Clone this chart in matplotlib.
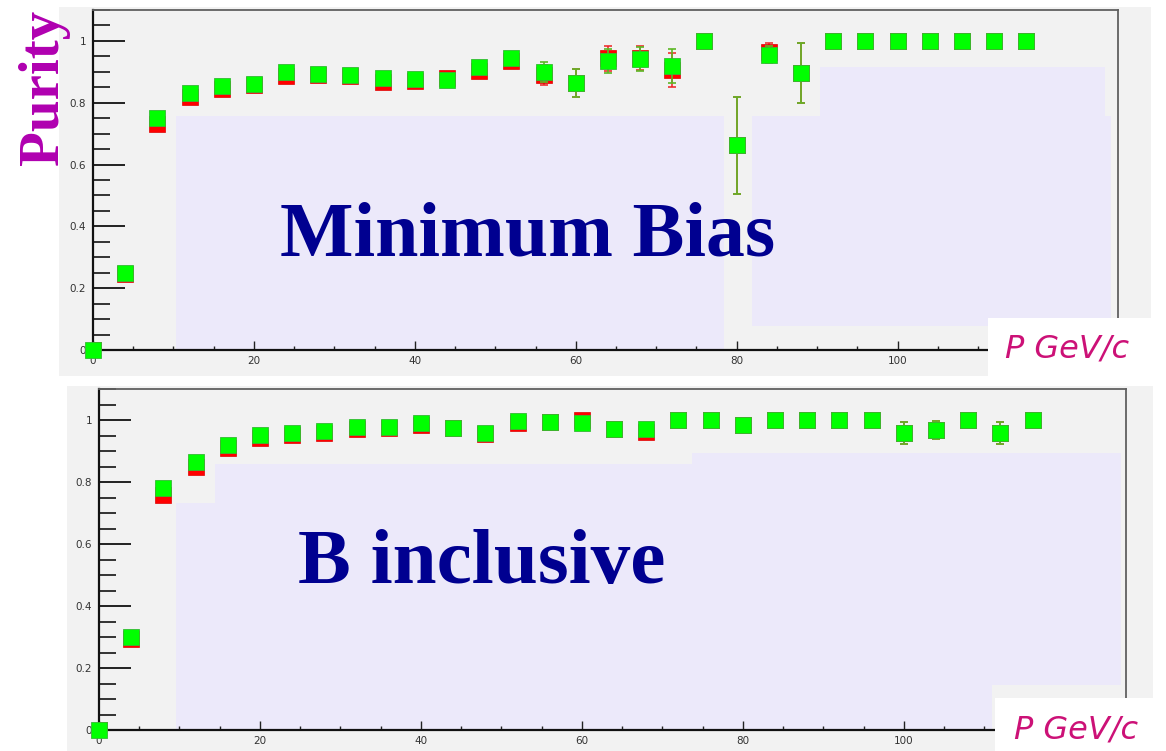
import matplotlib
matplotlib.use("Agg")
import matplotlib.pyplot as plt
from matplotlib.patches import Rectangle

# ── Data ──────────────────────────────────────────────────────────
p_top = [0, 4, 8, 12, 16, 20, 24, 28, 32, 36, 40, 44, 48, 52, 56,
         60, 64, 68, 72, 76, 80, 84, 88, 92, 96, 100, 104, 108, 112, 116]
green_top = [0.0, 0.25, 0.75, 0.833, 0.855, 0.86, 0.898, 0.892, 0.889, 0.879,
             0.877, 0.874, 0.917, 0.944, 0.90, 0.863, 0.935, 0.942, 0.919, 1.0,
             0.663, 0.955, 0.897, 1.0, 1.0, 1.0, 1.0, 1.0, 1.0, 1.0]
red_top = [0.0, 0.246, 0.732, 0.818, 0.843, 0.857, 0.888, 0.89, 0.885, 0.867,
           0.869, 0.879, 0.902, 0.936, 0.89, 0.863, 0.944, 0.945, 0.906, 1.0,
           0.663, 0.964, 0.897, 1.0, 1.0, 1.0, 1.0, 1.0, 1.0, 1.0]
err_top = [0.0, 0.0, 0.0, 0.0, 0.0, 0.0, 0.0, 0.0, 0.0, 0.0,
           0.0, 0.0, 0.0, 0.0, 0.033, 0.046, 0.04, 0.039, 0.054, 0.0,
           0.157, 0.028, 0.097, 0.0, 0.0, 0.0, 0.0, 0.0, 0.0, 0.0]

p_bot = [0, 4, 8, 12, 16, 20, 24, 28, 32, 36, 40, 44, 48, 52, 56,
         60, 64, 68, 72, 76, 80, 84, 88, 92, 96, 100, 104, 108, 112, 116]
green_bot = [0.0, 0.30, 0.78, 0.866, 0.919, 0.952, 0.959, 0.965, 0.976, 0.978,
             0.989, 0.975, 0.959, 0.997, 0.995, 0.991, 0.971, 0.971, 1.0, 1.0,
             0.984, 1.0, 1.0, 1.0, 1.0, 0.959, 0.968, 1.0, 0.959, 1.0]
red_bot = [0.0, 0.292, 0.757, 0.849, 0.911, 0.941, 0.952, 0.959, 0.972, 0.975,
           0.985, 0.975, 0.955, 0.99, 0.995, 1.0, 0.971, 0.96, 1.0, 1.0,
           0.984, 1.0, 1.0, 1.0, 1.0, 0.959, 0.968, 1.0, 0.959, 1.0]
err_bot = [0.0] * 25 + [0.036, 0.03, 0.0, 0.036, 0.0]

ytick_vals = [0, 0.2, 0.4, 0.6, 0.8, 1.0]
ytick_labels = ["0", "0.2", "0.4", "0.6", "0.8", "1"]
xtick_vals = [0, 20, 40, 60, 80, 100]
xtick_labels = ["0", "20", "40", "60", "80", "100"]

W, H = 1166, 751
GRAY = "#f2f2f2"
LAV = "#ece9fa"
NAVY = "#000090"
PINK = "#cc1177"


def fbox(x0, y0, x1, y1):
    # pixel box (top-left origin) -> figure fraction rect
    return (x0 / W, 1 - y1 / H), (x1 - x0) / W, (y1 - y0) / H


fig = plt.figure(figsize=(W / 100, H / 100), dpi=100)

# panel backgrounds
for box in [(59, 7, 1151, 376), (67, 386, 1153, 751)]:
    xy, w, h = fbox(*box)
    fig.add_artist(Rectangle(xy, w, h, transform=fig.transFigure,
                             facecolor=GRAY, edgecolor="none", zorder=-2))

ax1 = fig.add_axes([93 / W, 1 - 350 / H, (1118 - 93) / W, 340 / H])
ax2 = fig.add_axes([99 / W, 1 - 730 / H, (1126 - 99) / W, 341 / H])


def style(ax, xmax):
    ax.set_facecolor(GRAY)
    ax.set_xlim(0, xmax)
    ax.set_ylim(0, 1.1)
    ax.set_yticks(ytick_vals)
    ax.set_yticklabels(ytick_labels)
    ax.set_yticks([v / 100 for v in range(0, 111, 5)], minor=True)
    ax.set_xticks(xtick_vals)
    ax.set_xticklabels(xtick_labels)
    ax.set_xticks(list(range(0, 128, 5)), minor=True)
    ax.tick_params(axis="y", which="major", direction="in", length=23, width=1.4,
                   color="#222222", labelsize=7.5, labelcolor="#333333", pad=5)
    ax.tick_params(axis="y", which="minor", direction="in", length=12, width=1.4,
                   color="#333333")
    ax.tick_params(axis="x", which="major", direction="in", length=6.5, width=1.0,
                   color="#222222", labelsize=7.5, labelcolor="#333333", pad=4)
    ax.tick_params(axis="x", which="minor", direction="in", length=3, width=1.0,
                   color="#222222")
    for s in ["left", "bottom"]:
        ax.spines[s].set_linewidth(1.6)
        ax.spines[s].set_color("#111111")
    for s in ["top", "right"]:
        ax.spines[s].set_linewidth(1.3)
        ax.spines[s].set_color("#606060")


style(ax1, 127.4)
style(ax2, 127.6)

# lavender regions, top panel
for (x0, x1, y0, y1) in [(10.3, 78.4, 0.0, 0.757), (81.9, 126.5, 0.078, 0.757),
                         (90.4, 125.8, 0.757, 0.916)]:
    ax1.add_patch(Rectangle((x0, y0), x1 - x0, y1 - y0, facecolor=LAV,
                            edgecolor="none", zorder=0.5))
# lavender regions, bottom panel
for (x0, x1, y0, y1) in [(9.6, 14.4, 0.0, 0.732), (14.4, 73.7, 0.0, 0.858),
                         (73.7, 127.0, 0.0, 0.894)]:
    ax2.add_patch(Rectangle((x0, y0), x1 - x0, y1 - y0, facecolor=LAV,
                            edgecolor="none", zorder=0.5))
ax2.add_patch(Rectangle((110.9, 0.0), 17, 0.145, facecolor=GRAY,
                        edgecolor="none", zorder=0.6))


def draw_series(ax, p, red, green, err):
    ax.errorbar(p, red, yerr=err, fmt="none", ecolor="#ee2222", elinewidth=1.1,
                capsize=3, capthick=1.1, zorder=2)
    ax.plot(p, red, "s", color="#ff0000", ms=11, mec="#dd0000", mew=0.5, zorder=3)
    ax.errorbar(p, green, yerr=err, fmt="none", ecolor="#5cb825", elinewidth=1.2,
                capsize=3, capthick=1.2, zorder=4)
    ax.plot(p, green, "s", color="#00ff00", ms=11, mec="#33bb33", mew=0.6,
            zorder=5, clip_on=False)


draw_series(ax1, p_top, red_top, green_top, err_top)
draw_series(ax2, p_bot, red_bot, green_bot, err_bot)

ax1.text(23.2, 0.307, "Minimum Bias", ha="left", va="baseline",
         family="Liberation Serif", weight="bold", size=56, color=NAVY, zorder=6)
ax2.text(24.7, 0.474, "B inclusive", ha="left", va="baseline",
         family="Liberation Serif", weight="bold", size=57, color=NAVY, zorder=6)

fig.text(44 / W, 1 - 87.5 / H, "Purity", rotation=90, ha="center", va="center",
         family="Liberation Serif", weight="bold", size=41, color="#b000b0")

# white label boxes with axis title
for box, (tx, ty) in [((988, 318, 1152, 376), (1005, 357)),
                      ((995, 698, 1153, 751), (1014, 738))]:
    xy, w, h = fbox(*box)
    fig.add_artist(Rectangle(xy, w, h, transform=fig.transFigure,
                             facecolor="white", edgecolor="none", zorder=5))
    fig.text(tx / W, 1 - ty / H, "P GeV/c", ha="left", va="baseline",
             family="DejaVu Sans", style="italic", size=23, color=PINK, zorder=6)

fig.savefig("out.png", dpi=100)
